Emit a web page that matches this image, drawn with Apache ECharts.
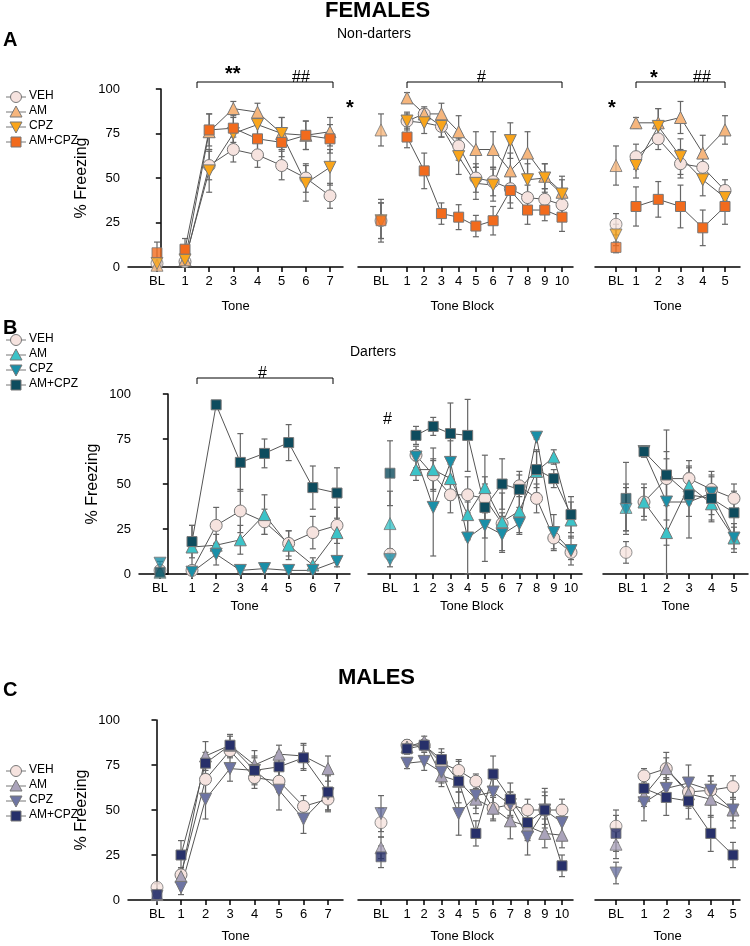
<!DOCTYPE html>
<html><head><meta charset="utf-8">
<script src="https://cdn.jsdelivr.net/npm/echarts@6/dist/echarts.min.js"></script>
<style>html,body{margin:0;padding:0;background:#fff}#c{width:750px;height:946px}</style>
</head><body><div id="c"></div>
<script>
var groups = ['VEH', 'AM', 'CPZ', 'AM+CPZ'];
var xNames = ['Tone', 'Tone Block', 'Tone'];

// row A (females, non-darters): [panel][group] values, BL first
var femND = [
  [[2,3,57,66,63,57,50,40],[1,4,76,89,87,75,74,76],[2,4,54,75,80,75,47,56],[8,10,77,78,72,70,74,72]],
  [[26,82,86,79,68,50,48,44,39,38,35],[77,95,86,86,76,66,66,54,64,51,42],[26,82,81,79,62,47,46,71,49,50,41],[26,73,54,30,28,23,26,43,32,32,28]],
  [[24,62,72,58,56,43],[57,81,81,84,64,77],[18,57,79,62,49,39],[11,34,38,34,22,34]]
];
var femNDErr = [
  [[2,2,8,7,7,8,8,7],[1,2,10,4,5,9,8,8],[2,2,12,9,7,9,10,10],[6,6,9,8,8,8,8,8]],
  [[10,5,4,6,8,8,8,8,7,6,6],[9,3,3,6,9,10,10,10,12,7,9],[10,4,6,6,10,9,9,10,9,8,8],[12,6,10,6,7,6,8,10,8,6,8]],
  [[6,7,6,8,7,6],[11,3,8,9,10,8],[6,7,10,10,9,6],[3,11,10,12,10,10]]
];
// row B (females, darters)
var femD = [
  [[2,2,27,35,29,17,23,27],[1,15,16,19,33,16,5,23],[6,1,11,2,3,2,2,7],[1,18,94,62,67,73,48,45]],
  [[11,66,55,44,44,42,28,49,42,20,12],[28,58,58,53,33,48,29,35,57,65,30],[8,65,37,62,20,27,22,28,76,23,13],[56,77,82,78,77,37,50,47,58,53,33]],
  [[12,40,53,53,47,42],[37,40,23,49,39,20],[36,68,40,40,45,20],[42,68,55,44,42,34]]
];
var femDErr = [
  [[1,2,10,12,7,7,9,10],[1,12,6,8,11,8,4,14],[1,1,6,1,3,1,1,3],[1,9,1,16,8,10,12,14]],
  [[3,3,8,10,10,8,6,6,8,6,4],[18,6,12,12,14,18,16,12,12,4,10],[4,6,27,12,20,20,10,6,1,10,8],[18,5,5,17,20,17,14,10,10,5,10]],
  [[6,8,15,10,8,8],[13,10,30,10,10,6],[12,3,24,20,12,8],[20,3,25,12,12,12]]
];
// row C (males)
var males = [
  [[7,14,67,83,68,66,52,56],[3,13,80,86,75,81,80,73],[2,7,56,73,72,61,45,59],[3,25,76,86,72,74,79,60]],
  [[43,86,86,76,72,66,51,53,50,50,50],[29,85,88,69,66,56,51,44,41,37,36],[48,76,77,71,48,58,60,53,35,50,43],[24,84,86,78,66,37,70,56,43,50,19]],
  [[41,69,73,60,61,63],[31,58,73,59,56,50],[15,54,62,65,61,50],[37,62,57,55,37,25]]
];
var malesErr = [
  [[2,4,8,4,6,6,6,6],[1,5,8,5,8,5,7,7],[1,4,11,7,7,11,8,10],[1,8,6,6,8,8,7,10]],
  [[8,3,3,6,5,4,7,7,6,8,6],[6,3,3,6,6,8,6,10,7,8,7],[10,3,5,6,12,7,7,7,10,10,10],[6,3,3,6,12,7,10,9,10,12,6]],
  [[9,4,9,8,8,6],[8,6,6,8,10,6],[6,10,6,10,8,10],[10,5,10,10,10,7]]
];

var rows = [
  {vals: femND, errs: femNDErr, colors: ['#f6e3df','#f6b67d','#f9a51b','#f26b1d'], top: 89, bottom: 267,
   panels: [[128,343,157,185,330,7],[358,573,381,407,562,10],[595,740,616,636,725,5]], nameY: 308, legY: 97},
  {vals: femD, errs: femDErr, colors: ['#f6e3df','#3cc3c8','#1a8fa8','#0e4c5e'], top: 394, bottom: 574,
   panels: [[139,350,160,192,337,7],[368,582,390,416,571,10],[603,748,626,644,734,5]], nameY: 608, legY: 340},
  {vals: males, errs: malesErr, colors: ['#f6e3df','#aaa3ba','#6d74a3','#27306a'], top: 720, bottom: 900,
   panels: [[128,343,157,181,328,7],[358,573,381,407,562,10],[595,740,616,644,733,5]], nameY: 938, legY: 771}
];
var symbols = ['circle', 'triangle', 'triangle', 'rect'];
var rotates = [0, 0, 180, 0];

var grid = [], xAxis = [], yAxis = [], series = [], graphic = [];
var font = 'Helvetica, Arial, "Liberation Sans", sans-serif';

rows.forEach(function (row, r) {
  row.panels.forEach(function (p, k) {
    var a0 = p[0], a1 = p[1], pBL = p[2], p1 = p[3], pN = p[4], n = p[5];
    var step = (pN - p1) / (n - 1);
    var bl = 1 - (p1 - pBL) / step;
    var xs = [bl];
    for (var i = 1; i <= n; i++) xs.push(i);
    var gi = grid.length;
    grid.push({left: a0, width: a1 - a0, top: row.top, height: row.bottom - row.top});
    xAxis.push({
      type: 'value', gridIndex: gi, min: 1 - (p1 - a0) / step, max: n + (a1 - pN) / step,
      splitLine: {show: false},
      axisLine: {lineStyle: {color: '#000', width: 1.5}},
      axisTick: {customValues: xs, length: 5, lineStyle: {color: '#000', width: 1.5}},
      axisLabel: {customValues: xs, color: '#000', fontSize: 13, fontFamily: font, margin: 8,
        formatter: function (v) { return v < 0.5 ? 'BL' : String(Math.round(v)); }}
    });
    yAxis.push({
      type: 'value', gridIndex: gi, min: 0, max: 100, interval: 25, show: k === 0,
      splitLine: {show: false},
      name: k === 0 ? '% Freezing' : '', nameLocation: 'middle', nameGap: 38,
      nameTextStyle: {fontSize: 16, color: '#000', fontFamily: font},
      axisLine: {show: true, lineStyle: {color: '#000', width: 1.5}},
      axisTick: {show: true, length: 5, lineStyle: {color: '#000', width: 1.5}},
      axisLabel: {color: '#000', fontSize: 13, fontFamily: font}
    });
    graphic.push({type: 'text', left: (a0 + a1) / 2 - (k === 1 ? 35 : 14), top: row.nameY - 8,
      style: {text: xNames[k], fontSize: 13, fill: '#000', fontFamily: font}});
    groups.forEach(function (g, s) {
      var v = row.vals[k][s], e = row.errs[k][s];
      var pts = xs.map(function (x, i) { return [x, v[i], e[i]]; });
      series.push({
        type: 'custom', xAxisIndex: gi, yAxisIndex: gi, data: pts, z: 1, silent: true,
        renderItem: function (params, api) {
          var x = api.value(0), y = api.value(1), d = api.value(2);
          var top = api.coord([x, Math.min(100, y + d)]), bot = api.coord([x, Math.max(0, y - d)]);
          var st = {stroke: '#666', lineWidth: 1.2};
          return {type: 'group', children: [
            {type: 'line', shape: {x1: top[0], y1: top[1], x2: bot[0], y2: bot[1]}, style: st},
            {type: 'line', shape: {x1: top[0] - 3, y1: top[1], x2: top[0] + 3, y2: top[1]}, style: st},
            {type: 'line', shape: {x1: bot[0] - 3, y1: bot[1], x2: bot[0] + 3, y2: bot[1]}, style: st}
          ]};
        }
      });
      series.push({
        type: 'line', name: g, xAxisIndex: gi, yAxisIndex: gi, z: 2,
        data: pts.slice(1).map(function (q) { return [q[0], q[1]]; }),
        symbol: symbols[s], symbolRotate: rotates[s], symbolSize: s === 3 ? 10 : 12,
        lineStyle: {color: '#555', width: 1},
        itemStyle: {color: row.colors[s], borderColor: '#777', borderWidth: 1}
      });
      series.push({
        type: 'scatter', xAxisIndex: gi, yAxisIndex: gi, z: 2, data: [[pts[0][0], pts[0][1]]],
        symbol: symbols[s], symbolRotate: rotates[s], symbolSize: s === 3 ? 10 : 12,
        itemStyle: {color: row.colors[s], borderColor: '#777', borderWidth: 1}
      });
    });
  });
  // legend drawn by hand
  groups.forEach(function (g, s) {
    var y = row.legY + s * 15;
    var shape;
    if (s === 0) shape = {type: 'circle', shape: {cx: 16, cy: y, r: 5.5}};
    else if (s === 3) shape = {type: 'rect', shape: {x: 11, y: y - 5, width: 10, height: 10}};
    else if (s === 1) shape = {type: 'polygon', shape: {points: [[16, y - 6], [22, y + 5], [10, y + 5]]}};
    else shape = {type: 'polygon', shape: {points: [[10, y - 5], [22, y - 5], [16, y + 6]]}};
    shape.style = {fill: row.colors[s], stroke: '#777', lineWidth: 1};
    graphic.push(shape);
    graphic.push({type: 'line', shape: {x1: 6, y1: y, x2: 26, y2: y}, style: {stroke: '#777', lineWidth: 1}, z: -1});
    graphic.push({type: 'text', left: 29, top: y - 7, style: {text: g, fontSize: 12, fill: '#000', fontFamily: font}});
  });
});

function txt(x, y, t, size, bold) {
  graphic.push({type: 'text', left: x, top: y, style: {text: t, fontSize: size, fontWeight: bold ? 'bold' : 'normal', fill: '#000', fontFamily: font}});
}
function bracket(x1, x2, y) {
  graphic.push({type: 'polyline', shape: {points: [[x1, y + 6], [x1, y], [x2, y], [x2, y + 6]]}, style: {stroke: '#000', lineWidth: 1, fill: null}});
}
txt(325, 0, 'FEMALES', 22, true);
txt(3, 30, 'A', 20, true);
txt(337, 27, 'Non-darters', 14);
txt(3, 318, 'B', 20, true);
txt(350, 345, 'Darters', 14);
txt(3, 680, 'C', 20, true);
txt(338, 667, 'MALES', 22, true);
bracket(197, 333, 82); txt(225, 64, '**', 20, true); txt(292, 70, '##', 16);
txt(346, 98, '*', 20, true); bracket(407, 562, 82); txt(477, 70, '#', 16);
txt(608, 98, '*', 20, true); bracket(636, 725, 82); txt(650, 68, '*', 20, true); txt(693, 70, '##', 16);
bracket(197, 333, 378); txt(258, 366, '#', 16);
txt(383, 412, '#', 16);

var chart = echarts.init(document.getElementById('c'));
chart.setOption({animation: false, grid: grid, xAxis: xAxis, yAxis: yAxis, series: series, graphic: graphic});
</script>
</body></html>
